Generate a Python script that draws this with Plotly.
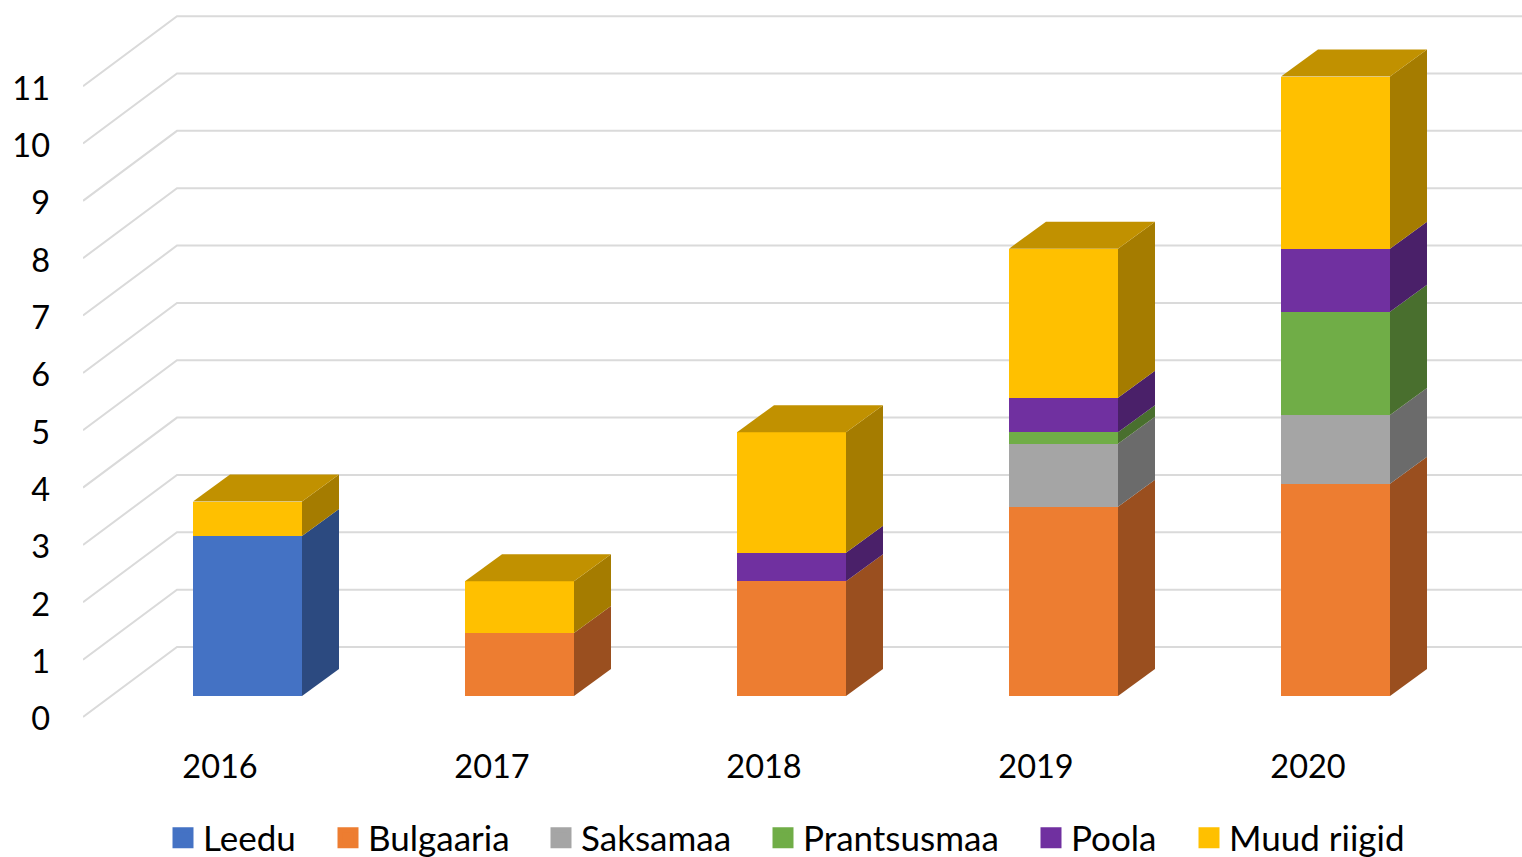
import plotly.graph_objects as go

# ---- data ----
years = [2016, 2017, 2018, 2019, 2020]
leedu = [2.79, 0, 0, 0, 0]
bulgaaria = [0, 1.1, 2.0, 3.3, 3.7]
saksamaa = [0, 0, 0, 1.1, 1.2]
prantsusmaa = [0, 0, 0, 0.2, 1.8]
poola = [0, 0, 0.5, 0.6, 1.1]
muud = [0.6, 0.9, 2.1, 2.6, 3.0]
value_ticks = list(range(12))

names = ["Leedu", "Bulgaaria", "Saksamaa", "Prantsusmaa", "Poola", "Muud riigid"]
series = [leedu, bulgaaria, saksamaa, prantsusmaa, poola, muud]
front = ["#4472C4", "#ED7D31", "#A5A5A5", "#70AD47", "#7030A0", "#FFC000"]
side = ["#2C4A80", "#9A4F1F", "#6B6B6B", "#496F2E", "#4A2069", "#A57C00"]
top_color = "#C19100"
legend_px = [163, 328, 541, 763, 1031, 1189]

# ---- geometry ----
W, H = 1522, 857
PX_X = 272.0      # pixels per category
PX_Y = 57.35      # pixels per value unit
LEFT, BOTTOM = 83, 730
BAR0_X, BASE_Y = 247.5, 696
BAR_W = 109 / PX_X
DX, DY = 37 / PX_X, 27 / PX_Y
x_range = [2016 + (LEFT - BAR0_X) / PX_X, 2016 + (W - BAR0_X) / PX_X]
y_range = [(BASE_Y - BOTTOM) / PX_Y, BASE_Y / PX_Y]
WALL_FRONT_Y, WALL_BACK_Y = (BASE_Y - 717) / PX_Y, (BASE_Y - 647) / PX_Y
WALL_BACK_X = 2016 + (177 - BAR0_X) / PX_X
LABEL_SHIFT = 27.5 / PX_X
LABEL_ZERO_Y = 719

fig = go.Figure()

# walls / gridlines live on the base axes, beneath the bars' overlay axes
for v in value_ticks:
    fig.add_trace(go.Scatter(
        x=[x_range[0], WALL_BACK_X, x_range[1]],
        y=[v + WALL_FRONT_Y, v + WALL_BACK_Y, v + WALL_BACK_Y],
        mode="lines", line=dict(color="#DADADA", width=2),
        hoverinfo="skip", showlegend=False))

# front faces
for s, (name, vals) in enumerate(zip(names, series)):
    fig.add_trace(go.Bar(
        x=years, y=vals, name=name, width=BAR_W, legendgroup=name,
        xaxis="x3", yaxis="y3",
        marker=dict(color=front[s], line=dict(width=0)), showlegend=False))

# side and top faces
totals = [0.0] * len(years)
for s, (name, vals) in enumerate(zip(names, series)):
    for i, yr in enumerate(years):
        if vals[i] <= 0:
            continue
        b, t = totals[i], totals[i] + vals[i]
        xr = yr + BAR_W / 2
        fig.add_trace(go.Scatter(
            x=[xr, xr + DX, xr + DX, xr, xr],
            y=[b, b + DY, t + DY, t, b],
            mode="lines", fill="toself", fillcolor=side[s], line=dict(width=0),
            xaxis="x3", yaxis="y3",
            legendgroup=name, showlegend=False, hoverinfo="skip"))
        totals[i] = t
for i, yr in enumerate(years):
    xl, xr, t = yr - BAR_W / 2, yr + BAR_W / 2, totals[i]
    fig.add_trace(go.Scatter(
        x=[xl, xl + DX, xr + DX, xr, xl],
        y=[t, t + DY, t + DY, t, t],
        mode="lines", fill="toself", fillcolor=top_color, line=dict(width=0),
        xaxis="x3", yaxis="y3", showlegend=False, hoverinfo="skip"))

# legend entries: one legend per series so each sits at its own place
legends = {}
for s, name in enumerate(names):
    key = "legend" if s == 0 else f"legend{s + 1}"
    fig.add_trace(go.Scatter(
        x=[None], y=[None], mode="markers", name=name, legend=key, legendgroup=name,
        marker=dict(symbol="square", size=16, color=front[s],
                    line=dict(color=front[s], width=5))))
    legends[key] = dict(x=legend_px[s] / W, xanchor="left", y=1 - 838 / H, yanchor="middle",
                        bgcolor="rgba(0,0,0,0)", font=dict(family="Lato", size=35, color="#000"),
                        itemwidth=30)

hidden = dict(showgrid=False, zeroline=False, showticklabels=False, ticks="")
fig.update_layout(
    width=W, height=H, margin=dict(l=0, r=0, t=0, b=0, autoexpand=False),
    paper_bgcolor="white", plot_bgcolor="white",
    barmode="stack", hovermode="closest",
    font=dict(family="Lato", size=32.5, color="#000"),
    xaxis=dict(domain=[LEFT / W, 1], range=x_range, **hidden),
    yaxis=dict(domain=[1 - BOTTOM / H, 1], range=y_range, **hidden),
    xaxis3=dict(overlaying="x", anchor="y3", range=x_range, **hidden),
    yaxis3=dict(overlaying="y", anchor="x3", range=y_range, **hidden),
    xaxis2=dict(overlaying="x", anchor="y", side="bottom",
                range=[x_range[0] + LABEL_SHIFT, x_range[1] + LABEL_SHIFT],
                tickmode="array", tickvals=years, ticktext=[str(y) for y in years],
                showgrid=False, zeroline=False, ticks="", ticklabelstandoff=14),
    yaxis2=dict(overlaying="y", anchor="x", side="left",
                range=[(LABEL_ZERO_Y - BOTTOM) / PX_Y, LABEL_ZERO_Y / PX_Y],
                tickmode="array", tickvals=value_ticks, ticktext=[str(v) for v in value_ticks],
                showgrid=False, zeroline=False, ticks="", ticklabelstandoff=32),
    **legends,
)
# invisible carrier so the shifted label axes are drawn
fig.add_trace(go.Scatter(x=[None], y=[None], xaxis="x2", yaxis="y2",
                         showlegend=False, hoverinfo="skip"))

fig.write_html("out.html", config={"displayModeBar": False},
               post_script="document.body.style.margin='0';")
